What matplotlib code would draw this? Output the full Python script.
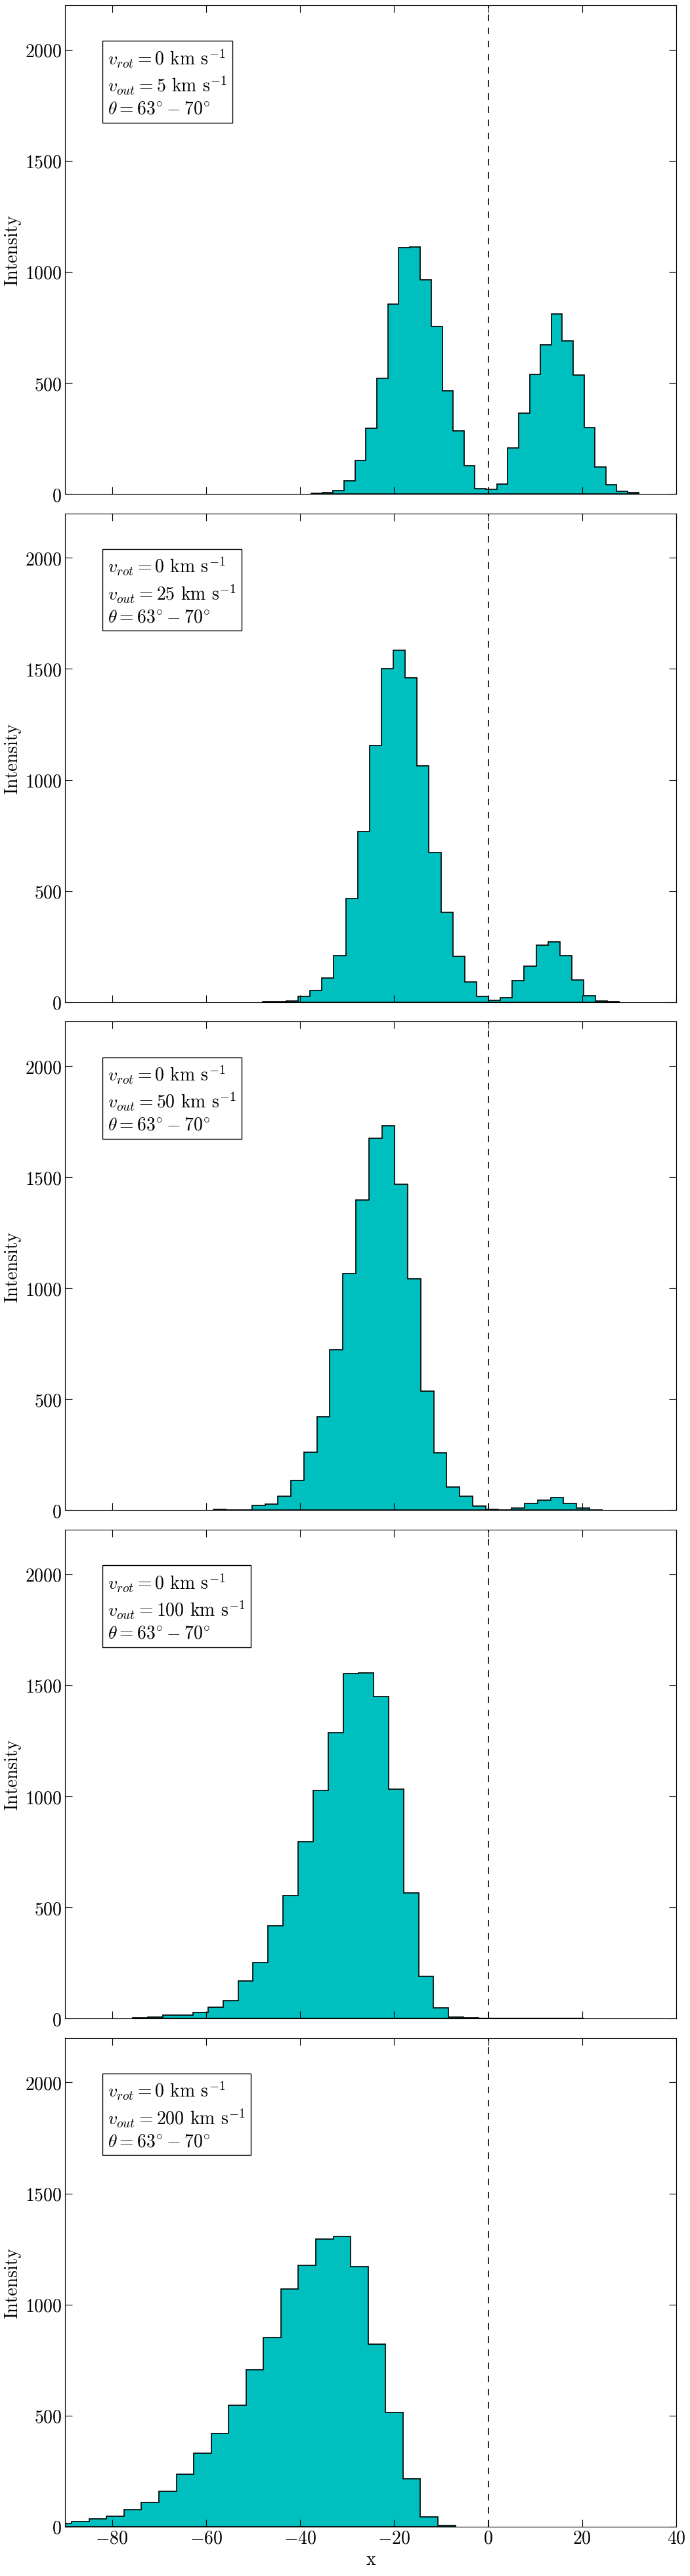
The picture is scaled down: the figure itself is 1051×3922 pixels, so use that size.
import numpy as np
import matplotlib
matplotlib.use('Agg')
import matplotlib.pyplot as plt

plt.rcParams['font.family'] = 'serif'
plt.rcParams['font.serif'] = ['cmr10']
plt.rcParams['mathtext.fontset'] = 'cm'
plt.rcParams['axes.formatter.use_mathtext'] = True
plt.rcParams['font.size'] = 20

# outflow velocities per panel (km/s)
v_out = [5, 25, 50, 100, 200]

# histogram bins: first edge and width per panel
bin_start = [-37.6, -48.0, -58.5, -75.6, -92.3]
bin_width = [2.32, 2.53, 2.76, 3.2, 3.71]

counts_5 = [2, 5, 15, 58, 150, 295, 520, 855, 1110, 1112, 965, 755, 465, 285, 127,
            25, 20, 45, 208, 365, 538, 670, 810, 690, 535, 300, 120, 40, 12, 5]
counts_25 = [1, 2, 6, 25, 53, 108, 210, 467, 768, 1155, 1502, 1584, 1459, 1064, 674,
             405, 207, 90, 27, 9, 21, 96, 163, 255, 271, 209, 100, 29, 5, 1]
counts_50 = [5, 1, 1, 21, 29, 64, 135, 262, 420, 724, 1066, 1398, 1674, 1730, 1468,
             1043, 537, 257, 105, 62, 20, 5, 1, 9, 30, 46, 58, 30, 9, 2]
counts_100 = [4, 6, 15, 16, 26, 52, 80, 170, 252, 416, 553, 797, 1026, 1288, 1553,
              1556, 1450, 1032, 564, 191, 48, 7, 2, 1, 1, 1, 1, 1, 1, 1]
counts_200 = [15, 22, 35, 47, 75, 110, 160, 235, 330, 420, 545, 705, 850, 1070, 1175,
              1295, 1305, 1170, 820, 515, 215, 45, 5]
all_counts = [counts_5, counts_25, counts_50, counts_100, counts_200]

fig = plt.figure(figsize=(10.51, 39.23), dpi=100)
H = 3923.0
left, width = 99/1051, 931/1051
ph = 744/H
period = 773.7/H
axes = []
for i in range(5):
    top = 1 - 9/H - i*period
    ax = fig.add_axes([left, top - ph, width, ph], sharex=axes[0] if axes else None)
    axes.append(ax)

for i, ax in enumerate(axes):
    c = np.array(all_counts[i], dtype=float)
    edges = bin_start[i] + bin_width[i]*np.arange(len(c) + 1)
    ax.hist(edges[:-1] + bin_width[i]/2, bins=edges, weights=c, histtype='stepfilled',
            facecolor='c', edgecolor='k', linewidth=1.2)
    ax.axvline(0, color='k', ls='--', lw=1.2, dashes=(6, 6))
    ax.set_xlim(-90, 40)
    ax.set_ylim(0, 2200)
    ax.set_yticks([0, 500, 1000, 1500, 2000])
    ax.set_xticks([-80, -60, -40, -20, 0, 20, 40])
    ax.tick_params(direction='in', top=True, right=True, length=8, labelsize=20)
    ax.set_ylabel('Intensity', fontsize=20)
    txt = ('$v_{rot} = 0$ km s$^{-1}$\n$v_{out} = %d$ km s$^{-1}$\n'
           r'$\theta = 63^{\circ} - 70^{\circ}$' % v_out[i])
    ax.text(0.07, 0.915, txt, transform=ax.transAxes, va='top', ha='left', fontsize=20,
            linespacing=1.3,
            bbox=dict(boxstyle='square,pad=0.3', facecolor='white', edgecolor='k'))
    if i < 4:
        plt.setp(ax.get_xticklabels(), visible=False)

axes[-1].set_xlabel('x', fontsize=20)
fig.savefig('out.png', dpi=100)
